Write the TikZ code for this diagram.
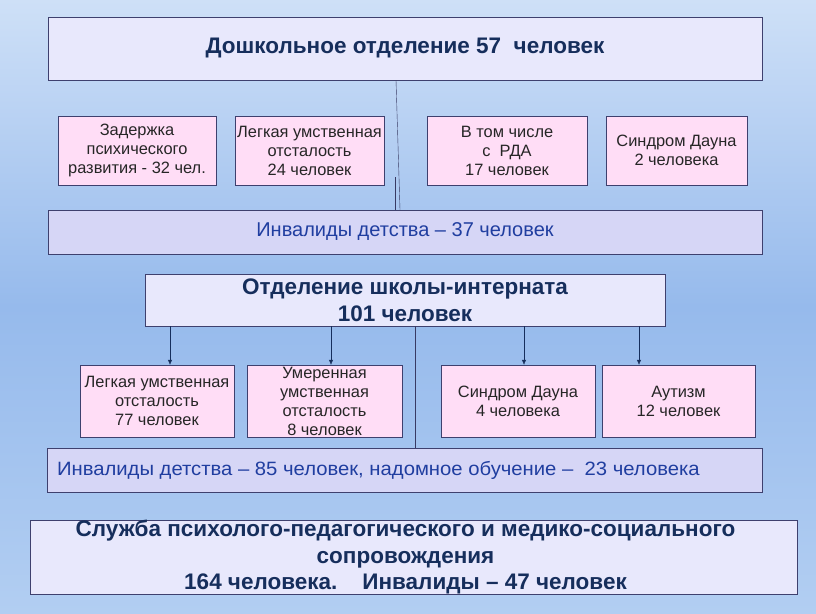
\documentclass[tikz,border=0pt]{standalone}
\usepackage{fontspec}
\setmainfont{Liberation Sans}
\newfontfamily\widefont[FakeStretch=1.05]{Liberation Sans}
\usetikzlibrary{positioning,arrows.meta}
\definecolor{navy}{RGB}{22,46,92}
\definecolor{invblue}{RGB}{32,62,160}
\definecolor{boxline}{RGB}{62,64,110}
\definecolor{lavender}{RGB}{232,232,252}
\definecolor{invfill}{RGB}{214,214,246}
\definecolor{pinkfill}{RGB}{255,221,246}
\definecolor{skytop}{RGB}{206,224,247}
\definecolor{skymid}{RGB}{150,186,236}
\definecolor{skybot}{RGB}{178,206,242}
\tikzset{
	headbox/.style={draw=boxline, fill=lavender, inner sep=0pt, align=center,
		text=navy, font=\fontsize{22.5}{27}\selectfont\bfseries},
	invbox/.style={draw=boxline, fill=invfill, inner sep=0pt, align=center,
		text=invblue, font=\fontsize{20}{24}\selectfont},
	pinkbox/.style={draw=boxline, fill=pinkfill, inner sep=0pt, align=center,
		text=black!85, font=\fontsize{16.4}{19}\selectfont},
	arr/.style={draw=navy, -{Latex[length=5pt,width=4.5pt]}},
	link/.style={draw=boxline!90!black},
}
\begin{document}
\begin{tikzpicture}[x=1pt, y=-1pt]
	\shade[top color=skytop, bottom color=skybot, middle color=skymid] (0,0) rectangle (816,613);
	\useasboundingbox (0,0) rectangle (816,613);
	% preschool part
	\node[headbox, minimum width=714pt, minimum height=63pt] (pre) at (405,48.5) {Дошкольное отделение 57\ \ человек};
	\node[pinkbox, minimum width=158pt, minimum height=69pt] (zpr) at (137,150.5) {Задержка\\психического\\развития - 32 чел.};
	\node[pinkbox, minimum width=149pt, minimum height=69pt] (lum) at (309.5,150.5) {Легкая умственная\\отсталость\\24 человек};
	\node[pinkbox, minimum width=160pt, minimum height=69pt] (rda) at (507,150.5) {В том числе\\с\ \ РДА\\17 человек};
	\node[pinkbox, minimum width=141pt, minimum height=69pt] (daun) at (676.5,150.5) {Синдром Дауна\\2 человека};
	\node[invbox, minimum width=714pt, minimum height=44pt] (inv) at (405,232) {Инвалиды детства – 37 человек};
	\coordinate (mark) at (395,177);
	\draw[link] ([xshift=-9pt]pre.south) -- ([xshift=-5pt]inv.north);
	\draw[link] (mark) -- (mark |- inv.north);
	% school part
	\node[headbox, minimum width=520pt, minimum height=52pt] (school) at (405,300) {Отделение школы-интерната\\101 человек};
	\node[pinkbox, minimum width=154pt, minimum height=72pt] (lum2) at (157,401) {Легкая умственная\\отсталость\\ 77 человек};
	\node[pinkbox, minimum width=155pt, minimum height=72pt] (umo) at (324.5,401) {Умеренная\\умственная\\отсталость\\8 человек};
	\node[pinkbox, minimum width=154pt, minimum height=72pt] (daun2) at (518,401) {Синдром Дауна\\4 человека};
	\node[pinkbox, minimum width=153pt, minimum height=72pt] (aut) at (678.5,401) {Аутизм\\12 человек};
	\foreach \kid/\dx in {lum2/13, umo/6.5, daun2/6, aut/-39.5}
		\draw[arr] ([xshift=\dx pt]school.south -| \kid) -- ([xshift=\dx pt]\kid.north);
	\node[invbox, minimum width=715pt, minimum height=44pt] (inv2) at (404.5,470) {};
	\node[anchor=west, text=invblue, inner sep=0pt, font=\widefont\fontsize{19.3}{24}\selectfont] (inv2txt) at ([xshift=10pt]inv2.west) {Инвалиды детства – 85 человек, надомное обучение –\ \ 23 человека};
	\draw[link] ([xshift=10pt]school.south) -- ([xshift=10.5pt]inv2.north);
	% support service
	\node[headbox, minimum width=767pt, minimum height=74pt] (sluzhba) at (413.5,557) {};
	\node[text=navy, align=center, inner sep=0pt, font=\fontsize{22.5}{26.5}\selectfont\bfseries] (sluzhbatxt) at ([xshift=-8pt]sluzhba.center) {Служба психолого-педагогического и медико-социального\\сопровождения\\164 человека.\ \ \ \ Инвалиды – 47 человек};
\end{tikzpicture}
\end{document}
